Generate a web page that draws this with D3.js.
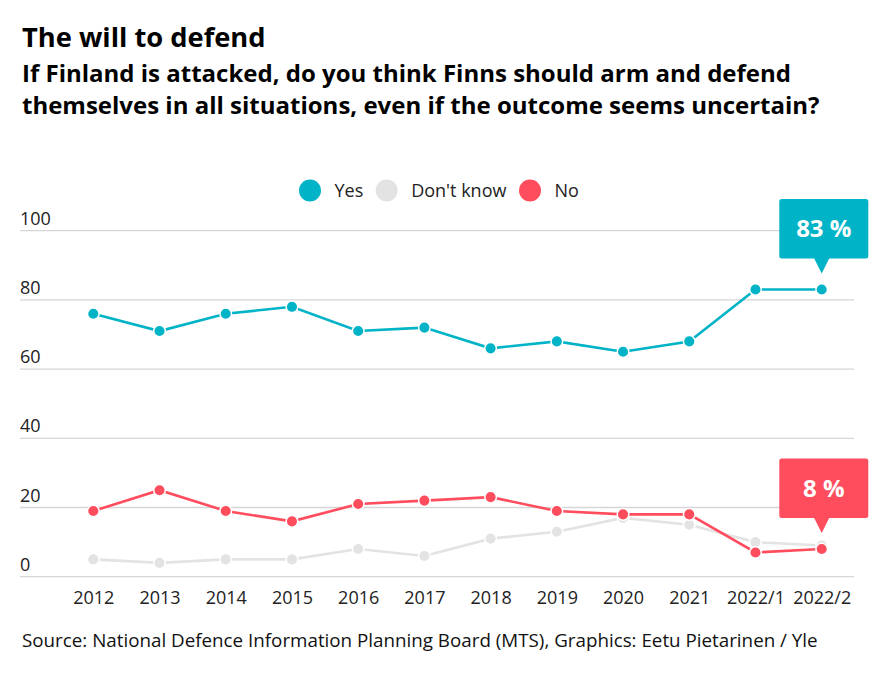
<!DOCTYPE html>
<html><head><meta charset="utf-8">
<script src="https://cdn.jsdelivr.net/npm/d3@7"></script>
<style>body{margin:0;background:#fff;font-family:"Open Sans",sans-serif;}</style>
</head><body><svg id="c" width="895" height="680"></svg>
<script>
const categories = ["2012","2013","2014","2015","2016","2017","2018","2019","2020","2021","2022/1","2022/2"];
const yesValues = [76,71,76,78,71,72,66,68,65,68,83,83];
const dontKnowValues = [5,4,5,5,8,6,11,13,17,15,10,9];
const noValues = [19,25,19,16,21,22,23,19,18,18,7,8];
const yTicks = [0,20,40,60,80,100];
const seriesNames = ["Yes","Don't know","No"];
const seriesColors = ["#00b3c7","#e3e3e3","#ff4d5e"];

const svg = d3.select("#c");
const x = d3.scalePoint().domain(categories).range([93.3,821.7]);
const y = d3.scaleLinear().domain([0,100]).range([576.7,230.7]);

svg.append("text").attr("x",22).attr("y",46.5).attr("font-size",27.3).attr("font-weight",700).attr("fill","#000").text("The will to defend");
svg.append("text").attr("x",22).attr("y",81.7).attr("font-size",24).attr("font-weight",700).attr("fill","#000").text("If Finland is attacked, do you think Finns should arm and defend");
svg.append("text").attr("x",22).attr("y",113.5).attr("font-size",24).attr("font-weight",700).attr("fill","#000").text("themselves in all situations, even if the outcome seems uncertain?");

// grid
const grid = svg.append("g");
yTicks.forEach(t=>{
  grid.append("line").attr("x1",20).attr("x2",854).attr("y1",y(t)).attr("y2",y(t)).attr("stroke","#d6d6d6").attr("stroke-width",1.3);
  grid.append("text").attr("x",20).attr("y",y(t)-6).attr("font-size",18).attr("fill","#222").text(t);
});
// x axis labels
const xAxis = d3.axisBottom(x).tickSize(0).tickPadding(0);
const xg = svg.append("g").attr("transform","translate(0,591)").call(xAxis);
xg.select(".domain").remove();
xg.selectAll("text").attr("font-size",18).attr("fill","#222").attr("font-family","Open Sans").attr("dy","0.71em");

// legend
const legX = [310,386.7,530];
seriesNames.forEach((n,i)=>{
  svg.append("circle").attr("cx",legX[i]).attr("cy",190.5).attr("r",11).attr("fill",seriesColors[i]);
  svg.append("text").attr("x",legX[i]+24.5).attr("y",196.5).attr("font-size",18).attr("fill","#222").text(n);
});

const line = d3.line().x((d,i)=>x(categories[i])).y(d=>y(d));
const order = [[dontKnowValues,1],[yesValues,0],[noValues,2]];
order.forEach(([vals,ci])=>{
  const g = svg.append("g");
  g.append("path").datum(vals).attr("d",line).attr("fill","none").attr("stroke",seriesColors[ci]).attr("stroke-width",2.6);
  g.selectAll("circle").data(vals).join("circle")
    .attr("cx",(d,i)=>x(categories[i])).attr("cy",d=>y(d)).attr("r",5.8)
    .attr("fill",seriesColors[ci]).attr("stroke","#fff").attr("stroke-width",1.5);
});

// callouts
function callout(val,color){
  const cx = x(categories[categories.length-1]);
  const cy = y(val);
  const bw=89, bh=59.5, boxBottom = cy-31, tip = cy-16;
  const left = cx-42.4;
  const g = svg.append("g");
  g.append("rect").attr("x",left).attr("y",boxBottom-bh).attr("width",bw).attr("height",bh).attr("rx",2.5).attr("fill",color);
  g.append("path").attr("d",`M${cx-8},${boxBottom-1}L${cx+8},${boxBottom-1}L${cx},${tip}Z`).attr("fill",color);
  g.append("text").attr("x",left+bw/2).attr("y",boxBottom-bh/2+8.5).attr("text-anchor","middle").attr("font-size",24).attr("font-weight",700).attr("fill","#fff").text(val+" %");
}
callout(yesValues[yesValues.length-1],seriesColors[0]);
callout(noValues[noValues.length-1],seriesColors[2]);

svg.append("text").attr("x",22).attr("y",646.5).attr("font-size",18.8).attr("fill","#111").text("Source: National Defence Information Planning Board (MTS), Graphics: Eetu Pietarinen / Yle");
</script></body></html>
